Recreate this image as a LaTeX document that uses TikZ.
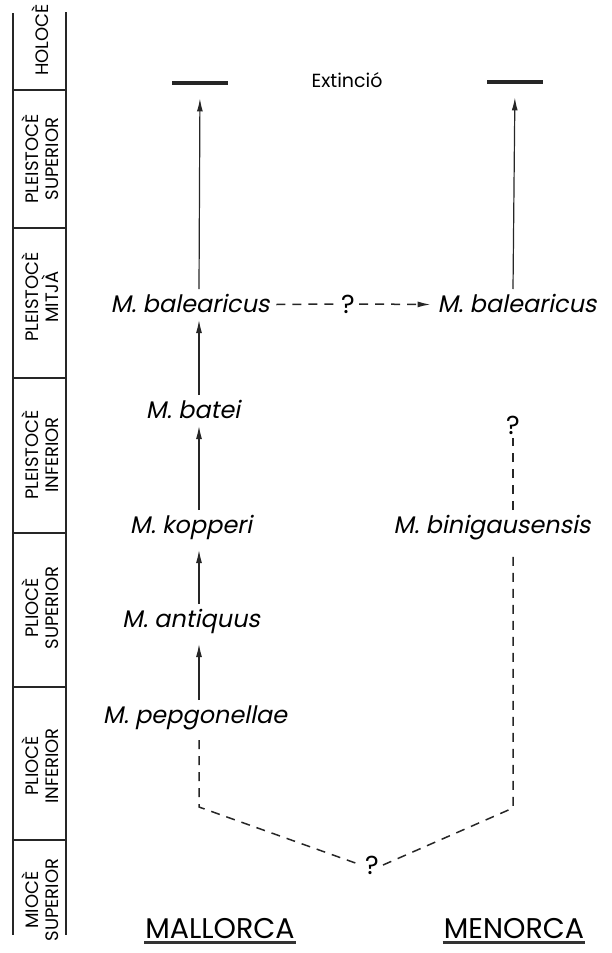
\documentclass[tikz,border=0pt]{standalone}
\usepackage{fontspec}
\setmainfont{Poppins}[AutoFakeSlant=0.2]
\usetikzlibrary{arrows.meta, positioning}

\begin{document}
\begin{tikzpicture}[x=1pt, y=-1pt,
    taxon/.style={anchor=base, font=\itshape\fontsize{24}{24}\selectfont, inner sep=0pt,
                  text height=18pt, text depth=3pt, outer ysep=5pt, outer xsep=7pt},
    deep/.style={text depth=12pt},
    qmark/.style={font=\fontsize{26}{26}\selectfont, inner sep=4pt},
    period/.style={rotate=90, align=center, font=\fontsize{18}{20}\selectfont},
    island/.style={font=\fontsize{28.5}{28.5}\selectfont, inner sep=1pt},
    endbar/.style={rectangle, fill=black!85, minimum width=56pt, minimum height=4.5pt, inner sep=0pt},
    tip/.style={-{Latex[length=13pt,width=6pt]}},
    arrow/.style={tip, line width=1.2pt, black!85},
    link/.style={dash pattern=on 9pt off 7pt, line width=1.5pt, black!85},
    strat/.style={line width=1.8pt, black!85}]

\useasboundingbox (0,0) rectangle (612,953);

% stratigraphic column
\draw[strat] (13,13) -- (13,935);
\draw[strat] (66,12) -- (66,935);
\foreach \y in {90,228,378,533,687,840}
  \draw[strat] (13,\y) -- (66,\y);
\foreach \y/\name in {40/HOLOCÈ, 159/PLEISTOCÈ\\SUPERIOR, 297/PLEISTOCÈ\\MITJÀ,
                      455/PLEISTOCÈ\\INFERIOR, 608/PLIOCÈ\\SUPERIOR,
                      766/PLIOCÈ\\INFERIOR, 900/MIOCÈ\\SUPERIOR}
  \node[period] at (40,\y) {\name};

\coordinate (stemM) at (199,0);
\coordinate (stemN) at (513,0);

\node[endbar] (endM) at (200,83) {};
\node[endbar] (endN) at (515,82) {};
\node[font=\fontsize{19}{19}\selectfont] (ext) at (347,80) {Extinció};

\node[taxon] (balM) at (190,312) {M. balearicus};
\node[taxon] (balN) at (517,312) {M. balearicus};
\node[taxon] (batM) at (193,418) {M. batei};
\node[taxon, deep] (kopM) at (191,533) {M. kopperi};
\node[taxon, deep] (antM) at (191,627) {M. antiquus};
\node[taxon, deep] (pepM) at (195,723) {M. pepgonellae};
\node[taxon, deep] (binN) at (492,533) {M. binigausensis};

\node[qmark] (qbal) at (348,304) {?};
\node[qmark] (qN) at (513,425) {?};
\node[qmark] (qroot) at (372,865) {?};

\coordinate (cornM) at (199,807);
\coordinate (cornN) at (513,808);

\draw[arrow, shorten >=13pt] (balM.north -| stemM) -- (endM.south);
\draw[arrow, shorten >=13pt] (balN.north -| stemN) -- (endN.south);
\draw[arrow] (batM.north -| stemM) -- (balM.south -| stemM);
\draw[arrow] (kopM.north -| stemM) -- (batM.south -| stemM);
\draw[arrow] (antM.north -| stemM) -- (kopM.south -| stemM);
\draw[arrow] (pepM.north -| stemM) -- (antM.south -| stemM);

\draw[link] (balM.east) -- (qbal.west);
\draw[link, tip] (qbal.east) -- (balN.west);

\draw[link] (pepM.south -| stemM) -- (cornM) -- (qroot.west);
\draw[link] (qroot.east) -- (cornN) -- (binN.south -| stemN);
\draw[link] (binN.north -| stemN) -- (qN.south);

\node[island] (mall) at (220,929) {MALLORCA};
\node[island] (meno) at (514,929) {MENORCA};
\draw[line width=2.5pt, black!80] ([yshift=-2pt]mall.south west) -- ([yshift=-2pt]mall.south east);
\draw[line width=2.5pt, black!80] ([yshift=-2pt]meno.south west) -- ([yshift=-2pt]meno.south east);
\end{tikzpicture}
\end{document}
